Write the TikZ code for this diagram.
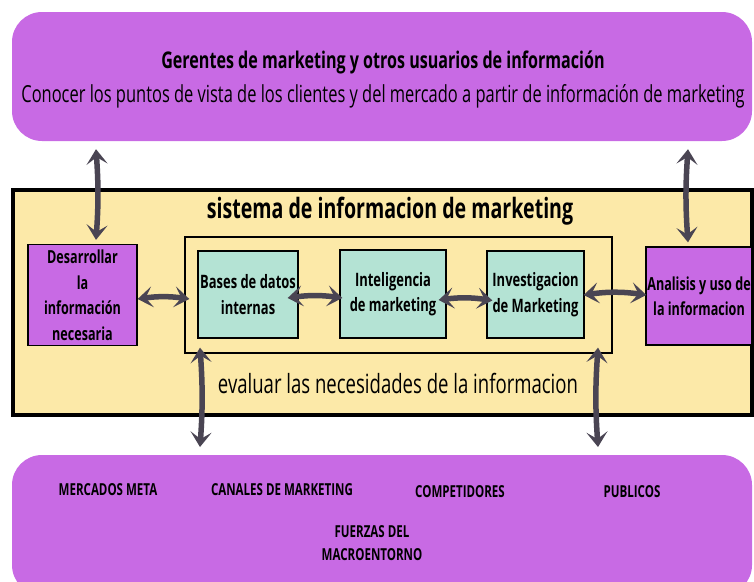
\documentclass[tikz,border=0pt]{standalone}
\usepackage{fontspec}
\setmainfont{Open Sans}[FakeStretch=0.7]
\usetikzlibrary{arrows.meta,calc}
\definecolor{purp}{HTML}{C86AE4}
\definecolor{yell}{HTML}{FCE9A8}
\definecolor{mint}{HTML}{B4E3D4}
\definecolor{arrc}{HTML}{4A4553}
\tikzset{
  big/.style={fill=purp, draw=none, rounded corners=30pt},
  pbox/.style={fill=purp, draw=black, line width=1.3pt, align=center, inner sep=1pt,
    font=\bfseries\fontsize{18}{25.5}\selectfont},
  mbox/.style={fill=mint, draw=black, line width=1.3pt, align=center, inner sep=1pt,
    font=\bfseries\fontsize{18.5}{25.5}\selectfont},
  lbl/.style={font=\bfseries\fontsize{16.5}{23}\selectfont, inner sep=0pt},
  tip/.tip={Stealth[length=15pt,width=21pt,inset=7pt]},
  arr/.style={line width=5.5pt, draw=arrc, tip-tip},
}
\begin{document}
\begin{tikzpicture}[x=1pt,y=-1pt]
\useasboundingbox (0,0) rectangle (754,581);
% top box
\node[big, minimum width=740pt, minimum height=129pt] (top) at (382,76.5) {};
\node[font=\bfseries\fontsize{23}{24}\selectfont] (t1) at (383,62) {Gerentes de marketing y otros usuarios de información};
\node[font=\fontsize{23.5}{25}\selectfont] (t2) at (383,96) {Conocer los puntos de vista de los clientes y del mercado a partir de información de marketing};
% yellow system box
\node[fill=yell, draw=black, line width=3.5pt, minimum width=739pt, minimum height=225pt] (sys) at (382.5,302.5) {};
\node[font=\bfseries\fontsize{28}{30}\selectfont] (st) at (390,211) {sistema de informacion de marketing};
\node[draw=black, line width=1.3pt, minimum width=427pt, minimum height=116pt] (frame) at (398.5,295) {};
\node[font=\fontsize{26.5}{28}\selectfont] (ev) at (398,383) {evaluar las necesidades de la informacion};
% inner boxes
\node[pbox, minimum width=109pt, minimum height=101pt] (desarr) at (82.5,295) {Desarrollar\\la\\información\\necesaria};
\node[mbox, minimum width=100pt, minimum height=87pt] (bases) at (248,294.5) {Bases de datos\\internas};
\node[mbox, minimum width=106pt, minimum height=88pt] (intel) at (393,294) {Inteligencia\\de marketing};
\node[mbox, minimum width=97pt, minimum height=87pt] (invest) at (535.5,294.5) {Investigacion\\de Marketing};
\node[pbox, minimum width=106pt, minimum height=98pt] (anal) at (699,296) {Analisis y uso de\\la informacion};
% bottom box
\node[big, minimum width=740pt, minimum height=140pt] (bot) at (382,525) {};
\node[lbl] (m1) at (108,490) {MERCADOS META};
\node[lbl] (m2) at (282,490) {CANALES DE MARKETING};
\node[lbl] (m3) at (460,492) {COMPETIDORES};
\node[lbl] (m4) at (632,492) {PUBLICOS};
\node[lbl, align=center] (m5) at (372,543.5) {FUERZAS DEL\\MACROENTORNO};
% arrows
\draw[arr] ($(top.south -| desarr.north)+(13.5,8)$) to[bend left=4] ($(desarr.north)+(13.5,-4)$);
\draw[arr] ($(top.south -| anal.north)+(-11,8)$) to[bend right=4] ($(anal.north)+(-11,-4)$);
\draw[arr] ($(desarr.east)+(0,4)$) to[bend left=8] ($(desarr.east -| frame.west)+(5,4)$);
\draw[arr] ($(bases.east)+(-11,3.5)$) to[bend left=8] ($(intel.west)+(3,4)$);
\draw[arr] ($(intel.east)+(-8,6)$) to[bend left=8] ($(invest.west)+(6,6)$);
\draw[arr] ($(invest.east)+(-1,0.5)$) to[bend left=8] ($(anal.west)+(1,-1)$);
\coordinate (c1) at (200,447);
\coordinate (c2) at (598,447);
\draw[arr] ($(frame.south -| c1)+(0,-6)$) to[bend left=4] (c1);
\draw[arr] ($(frame.south -| c2)+(0,-6)$) to[bend right=4] (c2);
\end{tikzpicture}
\end{document}
